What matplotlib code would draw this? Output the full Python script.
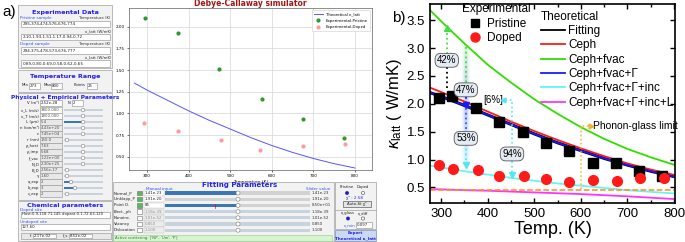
import numpy as np
import matplotlib.pyplot as plt
from matplotlib.patches import Rectangle, Ellipse
from matplotlib.lines import Line2D

W, H = 685, 242

# ---------------- panel a: values shown by the simulator GUI ----------------
gui_T_pristine = [295, 374, 474, 576, 676, 774]
gui_k_pristine = [2.10, 1.93, 1.51, 1.17, 0.94, 0.72]
gui_T_doped = [294, 375, 478, 573, 676, 777]
gui_k_doped = [0.89, 0.80, 0.69, 0.58, 0.62, 0.65]
gui_T_theory = [270, 300, 350, 400, 450, 500, 550, 600, 650, 700, 750, 800]
gui_k_theory = [1.35, 1.27, 1.15, 1.03, 0.92, 0.82, 0.72, 0.63, 0.55, 0.48, 0.42, 0.37]

# ---------------- panel b: measured and modelled kappa_latt ----------------
T_pristine = [296, 323, 375, 424, 476, 525, 575, 625, 675, 725, 774]
k_pristine = [2.10, 2.14, 1.92, 1.67, 1.50, 1.30, 1.16, 0.94, 0.94, 0.80, 0.70]
T_doped = [296, 326, 378, 424, 477, 526, 575, 626, 678, 726, 778]
k_doped = [0.90, 0.83, 0.81, 0.71, 0.70, 0.65, 0.59, 0.63, 0.62, 0.67, 0.66]

T_model = [276, 300, 350, 400, 450, 500, 550, 600, 650, 700, 750, 802]
k_ceph = [2.29, 2.21, 2.04, 1.86, 1.68, 1.51, 1.35, 1.20, 1.06, 0.93, 0.82, 0.72]
k_fvac = [3.68, 3.48, 3.08, 2.70, 2.38, 2.08, 1.82, 1.58, 1.37, 1.19, 1.04, 0.90]
k_fvac_G = [2.20, 2.13, 1.97, 1.80, 1.63, 1.46, 1.30, 1.16, 1.02, 0.90, 0.79, 0.69]
k_fit = [2.20, 2.13, 1.97, 1.80, 1.63, 1.46, 1.30, 1.16, 1.02, 0.90, 0.79, 0.69]
k_inc = [0.89, 0.86, 0.79, 0.73, 0.67, 0.62, 0.57, 0.53, 0.49, 0.45, 0.42, 0.39]
k_inc_L = [0.47, 0.465, 0.45, 0.44, 0.425, 0.41, 0.395, 0.38, 0.36, 0.34, 0.315, 0.29]
k_glass = 0.46

model_labels = ['Fitting', 'Ceph', 'Ceph+fvac', 'Ceph+fvac+Γ', 'Ceph+fvac+Γ+inc', 'Ceph+fvac+Γ+inc+L']
model_colors = ['black', '#ff1a1a', '#33dd00', '#1a1aff', '#66f5f5', '#ff33ff']

plt.rcParams['font.family'] = 'DejaVu Sans'
plt.rcParams['mathtext.fontset'] = 'custom'
plt.rcParams['mathtext.rm'] = 'Liberation Sans'
plt.rcParams['mathtext.it'] = 'Liberation Sans:italic'

fig = plt.figure(figsize=(6.85, 2.42), dpi=100)


def rect(x0, y0, x1, y1, fc='white', ec='#a0a0a0', lw=0.5, z=1):
    fig.add_artist(Rectangle((x0 / W, 1 - y1 / H), (x1 - x0) / W, (y1 - y0) / H,
                             transform=fig.transFigure, fc=fc, ec=ec, lw=lw, zorder=z))


def label(x, y, s, size=3.0, color='#202020', ha='left', weight='normal'):
    fig.text(x / W, 1 - y / H, s, fontsize=size, color=color, ha=ha, va='center',
             fontweight=weight, zorder=5)


def dot(x, y, r, fc, ec='#808080'):
    fig.add_artist(Ellipse((x / W, 1 - y / H), 2 * r / W, 2 * r / H,
                           transform=fig.transFigure, fc=fc, ec=ec, lw=0.4, zorder=4))


BLUE = '#2222ee'
LINK = '#3355ff'

# ---------- panel a, left column ----------
fig.text(2 / W, 1 - 12 / H, 'a)', fontsize=11, family='Liberation Sans', va='center')

rect(18, 5, 112, 68, fc='#f2f2f2')
label(65, 12.5, 'Experimental Data', 4.6, BLUE, 'center', 'bold')
entries = [(18.5, 'Pristine sample', 'Temperature (K)', 24, '295,374,474,576,676,774'),
           (44, 'Doped sample', 'Temperature (K)', 50.5, '294,375,478,573,676,777')]
vals = ['2.10,1.93,1.51,1.17,0.94,0.72', '0.89,0.80,0.69,0.58,0.62,0.65']
for (yl, name, tl, ye, txt), kv in zip(entries, vals):
    label(20, yl, name, 3.0, LINK)
    label(95, yl, tl, 2.8, '#303030', 'center')
    rect(21, ye - 3.2, 110, ye + 3.2)
    label(23, ye, txt, 3.0)
    label(98, ye + 7, 'κ_latt (W/mK)', 2.8, '#303030', 'center')
    rect(21, ye + 9.8, 110, ye + 16.2)
    label(23, ye + 13, kv, 3.0)

rect(18, 70, 112, 92, fc='#f2f2f2')
label(65, 76.5, 'Temperature Range', 4.6, BLUE, 'center', 'bold')
for xl, name, x0, x1, v in [(22, 'Min', 29, 40, '273'), (44, 'Max', 51, 62, '800'),
                            (74, 'Points', 87, 97, '25')]:
    label(xl, 85.5, name, 2.8)
    rect(x0, 83, x1, 88.5)
    label(x0 + 1, 85.7, v, 2.8)

rect(18, 93, 112, 200, fc='#f2f2f2')
label(65, 97, 'Physical + Empirical Parameters', 4.2, BLUE, 'center', 'bold')
phys_rows = [('v_L (m/s)', '3800.000', 83, None), ('v_T (m/s)', '1800.000', 83, None),
             ('L (μm)', '5.4', 83, 'fill'), ('n (ion/m³)', '4.43e+20', 83, None),
             ('ε', '7.45e+04', 83, None), ('r (nm)', '150.0', 67, None),
             ('ρ_host', '7.63', 83, None), ('ρ_imp', '5.68', 83, None),
             ('f_vac', '1.22e+00', 83, None), ('N_D', '2.30e+25', 83, None),
             ('B_D', '2.56e-17', 67, None), ('γ', '1.60', 67, None),
             ('a_exp', '2', 71, 'fill'), ('b_exp', '3', 75, 'fill'), ('c_exp', '2', 67, None)]
label(39, 103, 'V (m³)', 2.8, ha='right')
rect(40, 100, 62, 106)
label(41, 103, '2.52e-28', 2.8)
label(68, 103, 'N', 2.8)
rect(72, 100, 83, 106)
label(73, 103, '2', 2.8)
for i, (name, val, hx, kind) in enumerate(phys_rows):
    y = 110 + i * 6
    label(39, y, name, 2.8, ha='right')
    rect(40, y - 2.8, 62, y + 2.8, fc='#e8e8e8' if i > 1 else 'white')
    label(41, y, val, 2.8, '#505050')
    rect(64, y - 1.3, 103, y + 1.3, fc='#c9d3dd', ec='none', lw=0)
    if kind == 'fill':
        rect(64, y - 1.3, hx, y + 1.3, fc='#3a78b5', ec='none', lw=0, z=2)
    dot(hx, y, 1.8, 'white')

rect(18, 201, 112, 241, fc='#f2f2f2')
label(65, 205.5, 'Chemical parameters', 4.6, BLUE, 'center', 'bold')
label(20, 209.5, 'Doped site', 3.0, LINK)
rect(21, 211.5, 110, 217.5)
label(22, 214.5, 'Host:0.9,118.71,145 dopant:0.1,72.63,120', 2.7)
label(20, 221.5, 'Undoped site', 3.0, LINK)
rect(21, 224, 110, 230)
label(22, 227, '127.60', 2.8)
rect(21, 232.5, 111, 239, fc='#e8e8e8')
label(30, 235.8, 'f', 2.8)
rect(33, 233.5, 56, 238)
label(34, 235.8, '2.17e-02', 2.8)
label(63, 235.8, 'f_s', 2.8)
rect(69, 233.5, 92, 238)
label(70, 235.8, '8.52e-02', 2.8)

# ---------- panel a, fitting parameter panel ----------
rect(113, 182, 334, 241, fc='#f2f2f2')
label(240, 185.5, 'Fitting Parameters', 5.0, BLUE, 'center', 'bold')
label(146, 189, 'Manual input', 3.0, LINK)
label(318, 189, 'Slider value', 3.0, LINK, 'center')
fit_rows = [('Normal_P', '1.41e-23', '1.41e-23', True, True),
            ('Umklapp_P', '1.91e-20', '1.91e-20', True, False),
            ('Point D.', '85', '8.50e+01', True, True),
            ('Elect._ph', '1.18e-39', '1.18e-39', False, False),
            ('Nanoinc.', '1.01e-52', '1.01e-52', False, False),
            ('Vacancy', '0.850', '0.850', False, False),
            ('Dislocation', '1.100', '1.100', False, False)]
for i, (name, man, sl, on, filled) in enumerate(fit_rows):
    y = 193 + i * 6.2
    label(114, y, name, 2.8)
    rect(137, y - 2.2, 142, y + 2.2, fc='#5cb85c' if on else 'white', ec='#707070', lw=0.4)
    rect(143.5, y - 2.8, 164, y + 2.8, fc='white' if on else '#ececec', ec='#c0c0c0', lw=0.3)
    label(144.5, y, man, 2.8, '#202020' if on else '#909090')
    rect(165, y - 1.6, 310, y + 1.6, fc='#d2d2d2' if i < 3 else '#c9d3dd', ec='none', lw=0)
    if filled:
        rect(165, y - 1.6, 237, y + 1.6, fc='#3a78b5', ec='none', lw=0, z=2)
    dot(238, y, 2.0, 'white')
    label(312, y, sl, 2.8, '#303030')
fig.add_artist(Line2D([215 / W, 215 / W], [1 - 204 / H, 1 - 208 / H],
                      transform=fig.transFigure, color='red', lw=0.5, zorder=5))
rect(113, 235, 332, 240.5, fc='#d6f5cf', ec='#8fcf8f', lw=0.4)
label(115, 237.8, "Active scattering: ['NP', 'Um', 'P']", 2.7, '#2c7a2c')

# ---------- panel a, small control panel ----------
rect(335, 182, 376, 229, fc='#f2f2f2')
label(347, 187, 'Pristine', 2.7, ha='center')
label(363, 187, 'Doped', 2.7, ha='center')
dot(347, 193, 1.6, '#1a1acc', '#1a1acc')
dot(363, 193, 1.6, 'white', '#404040')
label(355, 198.5, 'χ² : 2.58', 3.0, BLUE, 'center')
rect(343, 201, 371, 207, fc='#e4e4e4', ec='#606060', lw=0.5)
label(357, 204, 'Auto-fit χ²', 2.8, ha='center')
fig.add_artist(Line2D([335 / W, 376 / W], [1 - 209.5 / H] * 2,
                      transform=fig.transFigure, color='#a0a0a0', lw=0.5, zorder=4))
label(348, 213, 'κ_glass', 2.7, ha='center')
label(363, 213, 'κ_diff', 2.7, ha='center')
dot(348, 218.5, 1.6, '#1a1acc', '#1a1acc')
dot(363, 218.5, 1.6, 'white', '#404040')
label(349, 225, 'κ_min', 2.8, LINK, 'center')
rect(356, 222, 372, 228)
label(357, 225, '0.097', 2.8)
rect(335, 230, 376, 241, fc='#c9d9f2', ec='#7a8fb0', lw=0.5)
label(355.5, 232.8, 'Export', 3.0, BLUE, 'center', 'bold')
label(355.5, 238, 'Theoretical κ_latt', 3.0, BLUE, 'center', 'bold')

# ---------- panel a, simulator plot ----------
ax_a = fig.add_axes([129 / W, 1 - 170 / H, 243 / W, 162 / H])
ax_a.plot(gui_T_theory, gui_k_theory, color='#5555ff', lw=0.7, label='Theoretical κ_latt')
ax_a.plot(gui_T_pristine, gui_k_pristine, 'o', color='#2a9a2a', ms=2.0,
          label='Experimental-Pristine')
ax_a.plot(gui_T_doped, gui_k_doped, 'o', color='#ff9a9a', ms=2.0, label='Experimental-Doped')
ax_a.set_xlim(257, 841)
ax_a.set_ylim(0.347, 2.216)
ax_a.set_xticks([300, 400, 500, 600, 700, 800])
ax_a.set_yticks([0.50, 0.75, 1.00, 1.25, 1.50, 1.75, 2.00])
ax_a.set_yticklabels(['0.50', '0.75', '1.00', '1.25', '1.50', '1.75', '2.00'])
ax_a.tick_params(labelsize=3.0, length=1.5, width=0.4, pad=1.5)
ax_a.grid(color='#dddddd', lw=0.6)
ax_a.set_axisbelow(True)
for s in ax_a.spines.values():
    s.set_linewidth(0.5)
    s.set_color('#606060')
ax_a.set_xlabel('Temperature (K)', fontsize=3.2, labelpad=1)
ax_a.set_title('Debye-Callaway simulator', fontsize=5.5, fontweight='bold',
               color='#a01818', pad=1.5)
ax_a.legend(loc='upper right', fontsize=2.8, handlelength=2.2, borderpad=0.6,
            labelspacing=0.6, framealpha=1, edgecolor='#cccccc', fancybox=True).get_frame().set_linewidth(0.4)

# ---------------- panel b ----------------
ax = fig.add_axes([430 / W, 1 - 203 / H, 245 / W, 199 / H])
ax.plot(T_model, k_fit, color=model_colors[0], lw=2.2)
ax.plot(T_model, k_ceph, color=model_colors[1], lw=1.3)
ax.plot(T_model, k_fvac, color=model_colors[2], lw=1.3)
ax.plot(T_model, k_fvac_G, color=model_colors[3], lw=1.3)
ax.plot(T_model, k_inc, color=model_colors[4], lw=1.3)
ax.plot(T_model, k_inc_L, color=model_colors[5], lw=1.3)
ax.axhline(k_glass, color='#ff8c1a', lw=1.1, ls='--')

# glow band behind the 47 % / 53 % arrows
ny, nx = 60, 30
grad = np.zeros((ny, nx, 4))
top = np.array([0.55, 0.9, 0.55])
mid = np.array([0.25, 0.35, 0.95])
bot = np.array([0.45, 0.9, 1.0])
for j in range(ny):
    f = j / (ny - 1)
    c = top * (1 - 2 * f) + mid * 2 * f if f < 0.5 else mid * (2 - 2 * f) + bot * (2 * f - 1)
    grad[j, :, :3] = c
grad[:, :, 3] = 0.35 * np.exp(-((np.arange(nx) - nx / 2 + 0.5) / (nx / 5)) ** 2)
ax.imshow(grad, extent=[338, 368, 0.9, 3.05], aspect='auto', zorder=0.5, origin='upper')

ax.plot(T_pristine, k_pristine, 's', color='black', ms=6.5, zorder=5)
ax.plot(T_doped, k_doped, 'o', color='#ff1a1a', ms=7, zorder=5)


def varrow(x, y0, y1, color, head=True):
    ax.plot([x, x], [y0, y1], ls=':', color=color, lw=1.3, zorder=4)
    if head:
        ax.plot([x], [y1], marker='^' if y1 > y0 else 'v', color=color, ms=4, zorder=4)


pct = dict(ha='center', va='center', fontsize=7, family='Liberation Sans', zorder=6,
           bbox=dict(boxstyle='round,pad=0.2,rounding_size=0.6', fc='#e4ebf3', ec='#555555', lw=0.6))
varrow(312, 2.28, 2.66, 'black', head=False)
varrow(312, 2.90, 3.36, '#44dd44')
ax.text(312, 2.78, '42%', **pct)
varrow(353, 3.02, 2.36, '#44dd44', head=False)
varrow(353, 2.13, 1.97, '#1a1aff')
ax.text(353, 2.25, '47%', **pct)
varrow(353, 1.93, 1.50, '#3355ff', head=False)
varrow(353, 1.27, 0.90, '#55e5f5')
ax.text(353, 1.38, '53%', **pct)
ax.plot([452, 452, 433], [1.2, 2.07, 2.07], ls=':', color='#55e5f5', lw=1.2, zorder=4)
ax.plot([433], [2.07], marker='<', color='#55e5f5', ms=3.5, zorder=4)
ax.text(411, 2.07, '[6%]', ha='center', va='center', fontsize=7, family='Liberation Sans')
varrow(452, 0.98, 0.73, '#55e5f5')
ax.text(452, 1.10, '94%', **pct)
ax.plot([600, 600, 622], [0.47, 1.60, 1.60], ls=':', color='#f0b030', lw=1.1, zorder=4)
ax.plot([622], [1.60], marker='>', color='#f0b030', ms=3.5, zorder=4)
ax.text(626, 1.60, 'Phonon-glass limit', fontsize=7.5, va='center', family='Liberation Sans')

ax.set_xlim(276, 802)
ax.set_ylim(0.22, 3.79)
ax.set_xticks([300, 400, 500, 600, 700, 800])
ax.set_xticks([350, 450, 550, 650, 750], minor=True)
ax.set_yticks([0.5, 1.0, 1.5, 2.0, 2.5, 3.0, 3.5])
ax.tick_params(which='both', direction='in', top=True, right=True, labelsize=9.5, width=1.0)
ax.tick_params(which='major', length=3.5)
ax.tick_params(which='minor', length=2)
for t in ax.get_xticklabels() + ax.get_yticklabels():
    t.set_family('Liberation Sans')
for s in ax.spines.values():
    s.set_linewidth(1.2)
ax.set_xlabel('Temp. (K)', fontsize=13, family='Liberation Sans', labelpad=1)
ax.set_ylabel(r'$\kappa_{\mathrm{latt}}$ ( W/mK)', fontsize=12, family='Liberation Sans', labelpad=2)
fig.text(392 / W, 1 - 18 / H, 'b)', fontsize=11, family='Liberation Sans', va='center')

exp_handles = [Line2D([], [], marker='s', ls='none', color='black', ms=6),
               Line2D([], [], marker='o', ls='none', color='#ff1a1a', ms=6.5)]
leg1 = ax.legend(exp_handles, ['Pristine', 'Doped'], title='Experimental', loc='upper left',
                 bbox_to_anchor=(0.095, 1.045), frameon=False, handletextpad=0.2,
                 handlelength=1.6, labelspacing=0.2, borderpad=0.2,
                 prop={'family': 'Liberation Sans', 'size': 8.5},
                 title_fontproperties={'family': 'Liberation Sans', 'size': 8.5})
ax.add_artist(leg1)
mod_handles = [Line2D([], [], color=c, lw=1.3) for c in model_colors]
leg2 = ax.legend(mod_handles, model_labels, title='Theoretical', loc='upper left',
                 bbox_to_anchor=(0.41, 1.02), frameon=False, handlelength=2.0,
                 handletextpad=0.3, labelspacing=0.2,
                 prop={'family': 'Liberation Sans', 'size': 8.5},
                 title_fontproperties={'family': 'Liberation Sans', 'size': 8.5})
leg2._legend_box.align = 'left'

fig.savefig('out.png', dpi=100)
